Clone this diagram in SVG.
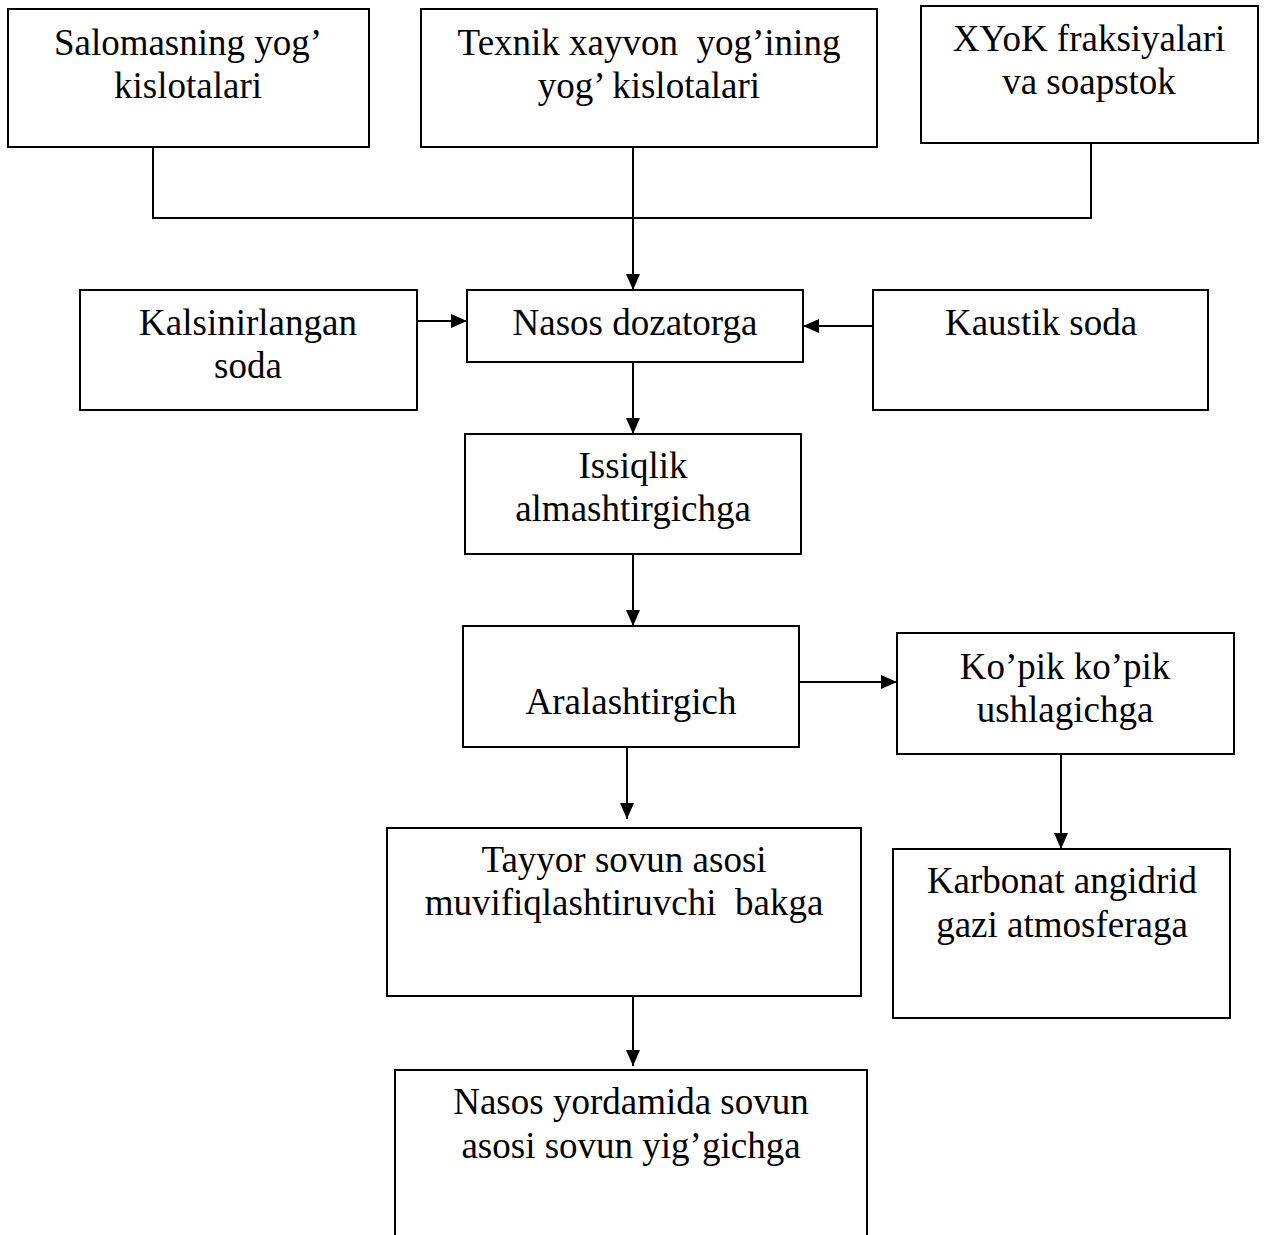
<svg xmlns="http://www.w3.org/2000/svg" width="1265" height="1235" viewBox="0 0 1265 1235">
<style>
.box{fill:#fff;stroke:#000;stroke-width:2}
.t{font-family:"Liberation Serif","Times New Roman",serif;font-size:37px;fill:#000;text-anchor:middle;white-space:pre}
.c{fill:none;stroke:#000;stroke-width:2}
</style>
<defs>
<marker id="ah" markerUnits="userSpaceOnUse" markerWidth="17" markerHeight="15" refX="16" refY="7" orient="auto">
<path d="M0,0 L16,7 L0,14 z" fill="#000"/>
</marker>
</defs>
<rect width="1265" height="1235" fill="#fff"/>
<g id="connectors">
<polyline class="c" points="153,147 153,218 1091,218 1091,143"/>
<line class="c" x1="633" y1="147" x2="633" y2="290" marker-end="url(#ah)"/>
<line class="c" x1="417" y1="321" x2="467" y2="321" marker-end="url(#ah)"/>
<line class="c" x1="873" y1="326" x2="803" y2="326" marker-end="url(#ah)"/>
<line class="c" x1="633" y1="362" x2="633" y2="434" marker-end="url(#ah)"/>
<line class="c" x1="633" y1="554" x2="633" y2="626" marker-end="url(#ah)"/>
<line class="c" x1="799" y1="682" x2="897" y2="682" marker-end="url(#ah)"/>
<line class="c" x1="1061" y1="754" x2="1061" y2="849" marker-end="url(#ah)"/>
<line class="c" x1="627" y1="747" x2="627" y2="819" marker-end="url(#ah)"/>
<line class="c" x1="633" y1="993" x2="633" y2="1066" marker-end="url(#ah)"/>
</g>
<g id="n1"><rect class="box" x="8" y="9" width="361" height="138"/>
<text class="t" x="188" y="55">Salomasning yog’</text><text class="t" x="188" y="98">kislotalari</text></g>
<g id="n2"><rect class="box" x="421" y="9" width="456" height="138"/>
<text class="t" x="649" y="55">Texnik xayvon  yog’ining</text><text class="t" x="649" y="98">yog’ kislotalari</text></g>
<g id="n3"><rect class="box" x="921" y="6" width="337" height="137"/>
<text class="t" x="1089" y="51">XYoK fraksiyalari</text><text class="t" x="1089" y="94">va soapstok</text></g>
<g id="n4"><rect class="box" x="80" y="290" width="337" height="120"/>
<text class="t" x="248" y="335">Kalsinirlangan</text><text class="t" x="248" y="378">soda</text></g>
<g id="n5"><rect class="box" x="467" y="290" width="336" height="72"/>
<text class="t" x="635" y="335">Nasos dozatorga</text></g>
<g id="n6"><rect class="box" x="873" y="290" width="335" height="120"/>
<text class="t" x="1041" y="335">Kaustik soda</text></g>
<g id="n7"><rect class="box" x="465" y="434" width="336" height="120"/>
<text class="t" x="633" y="478">Issiqlik</text><text class="t" x="633" y="521">almashtirgichga</text></g>
<g id="n8"><rect class="box" x="463" y="626" width="336" height="121"/>
<text class="t" x="631" y="714">Aralashtirgich</text></g>
<g id="n9"><rect class="box" x="897" y="633" width="337" height="121"/>
<text class="t" x="1065" y="679">Ko’pik ko’pik</text><text class="t" x="1065" y="722">ushlagichga</text></g>
<g id="n10"><rect class="box" x="387" y="828" width="474" height="168"/>
<text class="t" x="624" y="872">Tayyor sovun asosi</text><text class="t" x="624" y="915">muvifiqlashtiruvchi  bakga</text></g>
<g id="n11"><rect class="box" x="893" y="849" width="337" height="169"/>
<text class="t" x="1062" y="893">Karbonat angidrid</text><text class="t" x="1062" y="937">gazi atmosferaga</text></g>
<g id="n12"><rect class="box" x="395" y="1070" width="472" height="200"/>
<text class="t" x="631" y="1114">Nasos yordamida sovun</text><text class="t" x="631" y="1158">asosi sovun yig’gichga</text></g>
</svg>
